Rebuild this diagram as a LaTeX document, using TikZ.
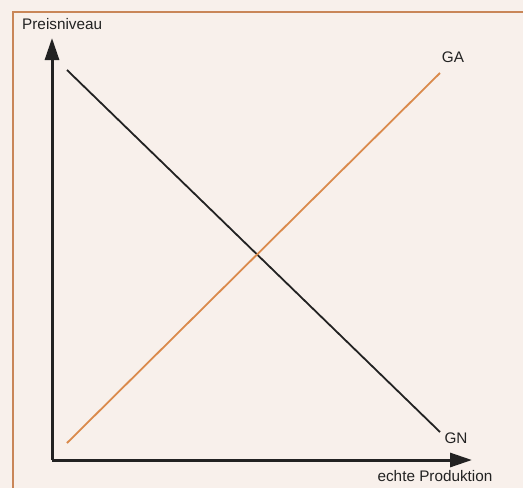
\documentclass[tikz,border=0pt]{standalone}
\usepackage{fontspec}
\setmainfont{Liberation Sans}
\usepackage{xcolor}
\usetikzlibrary{arrows.meta, positioning}
\definecolor{framebg}{HTML}{F8F0EB}
\definecolor{frameline}{HTML}{C98658}
\definecolor{supplyorange}{HTML}{DA8A4C}
\definecolor{axisdark}{HTML}{222222}

\begin{document}
\begin{tikzpicture}[
    x=1pt, y=-1pt,
    every node/.style={font=\fontsize{15.3}{17}\selectfont, text=axisdark, inner sep=1pt},
    axis/.style={-{Triangle[length=22pt, width=14pt]}, line width=3pt,
                 color=axisdark},
    demand/.style={line width=1.8pt, color=axisdark},
    supply/.style={line width=1.8pt, color=supplyorange}
]

% frame and background
\useasboundingbox (0,0) rectangle (523,488);
\fill[framebg] (0,0) rectangle (523,488);
\draw[frameline, line width=2.5pt] (13,495) -- (13,12) -- (530,12);

% axes
\coordinate (O) at (52,460);
\coordinate (ytip) at (52,38);
\coordinate (xtip) at (472,460);
\draw[axis] (O) -- (ytip);
\draw[axis] (O) -- (xtip);

% curves
\coordinate (GNstart) at (67,70);
\coordinate (GNend) at (440,432);
\coordinate (GAstart) at (67,443);
\coordinate (GAend) at (440,73);
\draw[demand] (GNstart) -- (GNend);
\draw[supply] (GAstart) -- (GAend);

% labels
\node[anchor=west] (price) at (21,24) {Preisniveau};
\node (GAlabel) at (453,57) {GA};
\node (GNlabel) at (456,438) {GN};
\node (output) at (435,476) {echte Produktion};

\end{tikzpicture}
\end{document}
